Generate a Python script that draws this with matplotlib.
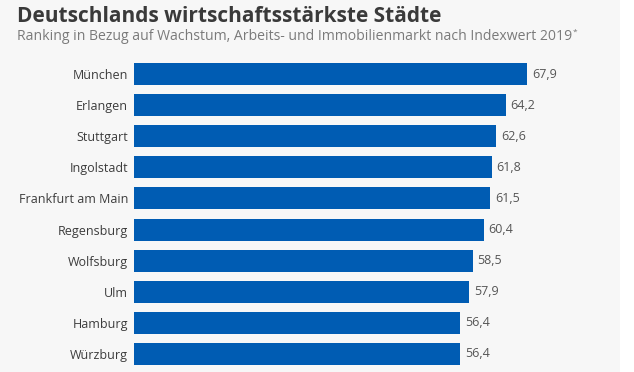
import matplotlib
matplotlib.use("Agg")
import matplotlib.pyplot as plt
from matplotlib.patches import Rectangle

cities = ["München", "Erlangen", "Stuttgart", "Ingolstadt", "Frankfurt am Main",
          "Regensburg", "Wolfsburg", "Ulm", "Hamburg", "Würzburg"]
values = [67.9, 64.2, 62.6, 61.8, 61.5, 60.4, 58.5, 57.9, 56.4, 56.4]
title = "Deutschlands wirtschaftsstärkste Städte"
subtitle = "Ranking in Bezug auf Wachstum, Arbeits- und Immobilienmarkt nach Indexwert 2019"

plt.rcParams['font.family'] = ['Open Sans', 'DejaVu Sans']

W, H = 634, 372
bg = "#f7f7f7"
fig = plt.figure(figsize=(W/100, H/100), dpi=100, facecolor=bg)
fig.patches.append(Rectangle((620/W, 0), 14/W, 1, transform=fig.transFigure,
                             facecolor="white", edgecolor="none", zorder=0))

left = 134/W
right = 597/W
top_px = 74 - 15.55
bot_px = 354 + 15.55
ax = fig.add_axes([left, 1 - bot_px/H, right - left, (bot_px - top_px)/H])
ax.set_facecolor(bg)
ypos = list(range(len(cities)))
ax.barh(ypos, values, height=0.707, color="#005cb3", zorder=2)
ax.set_xlim(0, 80)
ax.set_ylim(len(cities) - 0.5, -0.5)
for s in ax.spines.values():
    s.set_visible(False)
ax.set_xticks([])
ax.set_yticks(ypos)
ax.set_yticklabels(cities, fontsize=9, color="#3c3c3c")
ax.tick_params(axis='y', length=0, pad=4.3)
for y, v in zip(ypos, values):
    ax.annotate(f"{v:.1f}".replace(".", ","), (v, y), xytext=(3.6, 0),
                textcoords="offset points", va="center", ha="left",
                fontsize=9, color="#555555")

fig.text(17/W, 1 - 21.5/H, title, fontsize=15, fontweight="bold",
         color="#3a3a3a", ha="left", va="baseline")
st = fig.text(17/W, 1 - 39.5/H, subtitle, fontsize=10.1, color="#7a7a7a",
              ha="left", va="baseline")
fig.canvas.draw()
bb = st.get_window_extent()
fig.text(bb.x1/W + 0.5/W, 1 - 33.5/H, "*", fontsize=6, color="#7a7a7a",
         ha="left", va="baseline")

fig.savefig("out.png", dpi=100, facecolor=bg)
